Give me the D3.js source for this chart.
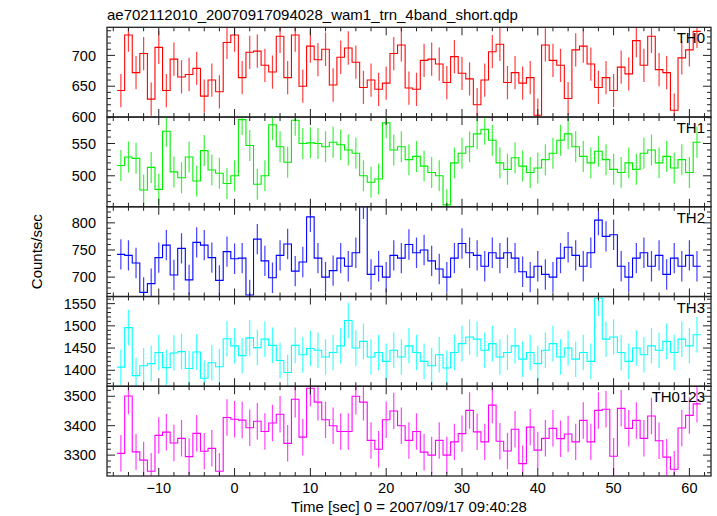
<!DOCTYPE html>
<html><head><meta charset="utf-8">
<script src="https://cdn.jsdelivr.net/npm/d3@7"></script>
<style>
html,body{margin:0;padding:0;background:#fff;}
svg{display:block;}
text{font-family:"Liberation Sans",Arial,Helvetica,sans-serif;fill:#000;}
</style></head>
<body>
<svg id="chart" width="717" height="516"></svg>
<script>
// ---- data (1-s bins, centres from -15 to 61 s) ----
const binStart = -15;
const th0 = [643,733,672,703,629,713,643,694,665,669,679,634,660,641,721,733,664,705,707,684,673,731,664,733,
  650,715,693,710,652,697,712,689,648,660,645,655,703,717,647,645,692,694,686,656,698,671,662,620,660,706,
  718,656,672,655,664,603,717,692,684,630,709,715,686,648,664,643,681,670,724,684,731,677,672,611,696,709,739];
const th1 = [516,529,527,478,513,479,569,506,497,529,492,539,509,504,488,500,587,547,487,500,579,545,521,586,550,
  551,550,545,552,548,540,535,500,490,495,582,540,545,525,530,515,505,500,455,520,535,545,565,572,555,520,
  510,528,515,505,512,525,535,555,565,545,530,520,538,525,510,505,520,510,535,540,520,530,512,525,505,552];
const th2 = [742,740,726,672,688,736,759,704,753,695,764,759,736,694,747,734,735,667,770,730,699,740,761,711,728,
  811,735,700,712,735,720,745,835,705,720,700,740,735,760,745,750,730,715,700,735,762,745,740,720,745,735,
  745,735,710,700,720,705,700,735,755,740,720,745,805,775,778,720,700,735,745,720,740,705,735,720,740,720];
const th3 = [1407,1496,1388,1410,1415,1440,1406,1439,1442,1404,1441,1382,1417,1408,1471,1455,1433,1473,1451,1470,
  1456,1422,1395,1456,1435,1449,1445,1430,1440,1455,1512,1450,1465,1430,1440,1420,1445,1430,1455,1440,1420,
  1410,1435,1405,1440,1460,1475,1470,1445,1460,1430,1440,1455,1425,1440,1415,1445,1460,1430,1450,1425,1440,
  1420,1562,1470,1475,1440,1420,1450,1435,1455,1445,1465,1440,1470,1455,1480];
const th0123 = [3306,3501,3311,3283,3245,3367,3378,3341,3357,3295,3374,3313,3323,3245,3428,3422,3419,3393,3415,3380,
  3409,3439,3340,3490,3361,3527,3480,3420,3400,3380,3380,3500,3480,3350,3320,3420,3450,3400,3350,3380,3310,
  3300,3350,3300,3345,3373,3452,3379,3345,3470,3347,3314,3388,3271,3395,3317,3357,3391,3356,3372,3345,3418,
  3345,3452,3456,3296,3459,3391,3418,3357,3433,3349,3293,3252,3392,3435,3474];
const seriesNames = ["TH0","TH1","TH2","TH3","TH0123"];
const seriesColors = ["#ff0000","#00ee00","#0000ff","#00ffff","#ff00ff"];
const errHalf = [27, 24, 28, 40, 62];
const yDomains = [[600,745.6],[452,591],[664.3,829.6],[1364,1566],[3229,3534]];
const yMajorTicks = [[600,650,700],[500,550],[700,750,800],[1400,1450,1500,1550],[3300,3400,3500]];
const yMinorStep = [10,10,10,10,20];
const xDomain = [-16.83, 62.85];
const xMajorTicks = [-10,0,10,20,30,40,50,60];
const titleText = "ae702112010_20070917094028_wam1_trn_4band_short.qdp";
const xLabel = "Time [sec] 0 = 2007/09/17 09:40:28";
const yLabel = "Counts/sec";
const allSeries = [th0, th1, th2, th3, th0123];

// ---- layout ----
const svg = d3.select("#chart");
const pLeft = 107, pRight = 711, pTop = 27.3, pBottom = 476;
const nP = 5, pH = (pBottom - pTop) / nP;
const x = d3.scaleLinear().domain(xDomain).range([pLeft, pRight]);
const xMinor = d3.range(-16, 63, 2).filter(v => v % 10 !== 0);
const ink = "#222";

svg.append("text").attr("x", pLeft).attr("y", 20).attr("font-size", 15).text(titleText);

allSeries.forEach((vals, i) => {
  const y0 = pTop + i * pH, y1 = y0 + pH;
  const y = d3.scaleLinear().domain(yDomains[i]).range([y1, y0]);
  const g = svg.append("g");
  const cid = "clip" + i;
  svg.append("clipPath").attr("id", cid).append("rect")
    .attr("x", pLeft).attr("y", y0).attr("width", pRight - pLeft).attr("height", pH);
  const dg = g.append("g").attr("clip-path", `url(#${cid})`);
  const col = seriesColors[i];
  dg.selectAll("line.err").data(vals).join("line")
    .attr("x1", (d, k) => x(binStart + k)).attr("x2", (d, k) => x(binStart + k))
    .attr("y1", d => y(d - errHalf[i])).attr("y2", d => y(d + errHalf[i]))
    .attr("stroke", col).attr("stroke-width", 1.2).attr("stroke-opacity", 0.75);
  const pts = [];
  vals.forEach((v, k) => { pts.push([binStart + k - 0.5, v]); pts.push([binStart + k + 0.5, v]); });
  dg.append("path").attr("d", d3.line().x(p => x(p[0])).y(p => y(p[1]))(pts))
    .attr("fill", "none").attr("stroke", col).attr("stroke-width", 1.1);

  g.append("rect").attr("x", pLeft).attr("y", y0).attr("width", pRight - pLeft).attr("height", pH)
    .attr("fill", "none").attr("stroke", ink).attr("stroke-width", 1.3);

  const yMin = d3.range(Math.ceil(yDomains[i][0] / yMinorStep[i]) * yMinorStep[i], yDomains[i][1], yMinorStep[i]);
  yMin.forEach(v => {
    const major = yMajorTicks[i].includes(v);
    const len = major ? 8 : 4;
    g.append("line").attr("x1", pLeft).attr("x2", pLeft + len).attr("y1", y(v)).attr("y2", y(v)).attr("stroke", ink);
    g.append("line").attr("x1", pRight).attr("x2", pRight - len).attr("y1", y(v)).attr("y2", y(v)).attr("stroke", ink);
  });
  yMajorTicks[i].forEach(v => {
    g.append("text").attr("x", 96).attr("y", y(v)).attr("dy", "0.36em").attr("text-anchor", "end")
      .attr("font-size", 14.5).text(v);
  });
  xMajorTicks.forEach(v => {
    g.append("line").attr("x1", x(v)).attr("x2", x(v)).attr("y1", y1).attr("y2", y1 - 8).attr("stroke", ink);
    g.append("line").attr("x1", x(v)).attr("x2", x(v)).attr("y1", y0).attr("y2", y0 + 8).attr("stroke", ink);
  });
  xMinor.forEach(v => {
    g.append("line").attr("x1", x(v)).attr("x2", x(v)).attr("y1", y1).attr("y2", y1 - 4).attr("stroke", ink);
    g.append("line").attr("x1", x(v)).attr("x2", x(v)).attr("y1", y0).attr("y2", y0 + 4).attr("stroke", ink);
  });
  g.append("text").attr("x", 705).attr("y", y0 + 16).attr("text-anchor", "end").attr("font-size", 15)
    .text(seriesNames[i]);
});

xMajorTicks.forEach(v => {
  svg.append("text").attr("x", x(v)).attr("y", 493).attr("text-anchor", "middle").attr("font-size", 14.5)
    .text(v < 0 ? "\u2212" + Math.abs(v) : v);
});
svg.append("text").attr("x", (pLeft + pRight) / 2).attr("y", 512).attr("text-anchor", "middle")
  .attr("font-size", 15).text(xLabel);
svg.append("text").attr("transform", `translate(42,${(pTop + pBottom) / 2}) rotate(-90)`)
  .attr("text-anchor", "middle").attr("font-size", 15).text(yLabel);
</script>
</body></html>
